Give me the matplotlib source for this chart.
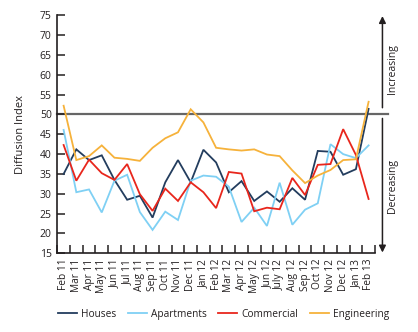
import matplotlib
matplotlib.use('Agg')
import matplotlib.pyplot as plt
import numpy as np

# data
months = ['Feb 11', 'Mar 11', 'Apr 11', 'May 11', 'Jun 11', 'Jul 11', 'Aug 11', 'Sep 11',
          'Oct 11', 'Nov 11', 'Dec 11', 'Jan 12', 'Feb 12', 'Mar 12', 'Apr 12', 'May 12',
          'Jun 12', 'July 12', 'Aug 12', 'Sep 12', 'Oct 12', 'Nov 12', 'Dec 12', 'Jan 13', 'Feb 13']
houses      = [35.0, 41.2, 38.5, 39.7, 33.5, 28.5, 29.5, 24.0, 32.9, 38.5, 32.9, 41.1, 37.9,
               30.4, 33.2, 28.2, 30.6, 28.0, 31.4, 28.5, 40.8, 40.6, 34.8, 36.2, 51.4]
apartments  = [46.1, 30.4, 31.1, 25.3, 33.3, 34.8, 25.4, 20.9, 25.5, 23.4, 33.3, 34.6, 34.3,
               31.8, 22.9, 26.5, 21.9, 32.8, 22.2, 26.0, 27.6, 42.5, 40.0, 39.0, 42.2]
commercial  = [42.3, 33.3, 38.6, 35.2, 33.5, 37.5, 29.9, 25.7, 31.3, 28.2, 32.9, 30.4, 26.4,
               35.5, 35.1, 25.6, 26.5, 26.1, 34.0, 29.7, 37.3, 37.5, 46.3, 39.8, 28.7]
engineering = [52.2, 38.5, 39.5, 42.2, 39.1, 38.8, 38.3, 41.6, 44.0, 45.5, 51.3, 48.0, 41.6,
               41.2, 40.9, 41.2, 39.9, 39.5, 35.9, 32.7, 34.6, 36.0, 38.5, 38.7, 53.2]

series = [('Houses', houses, '#233d5e'),
          ('Apartments', apartments, '#7fd0f4'),
          ('Commercial', commercial, '#e8261c'),
          ('Engineering', engineering, '#f6b23b')]

plt.rcParams['font.family'] = ['Open Sans', 'DejaVu Sans']
txtcol = '#231f20'

fig = plt.figure(figsize=(4.18, 3.32), dpi=100)
ax = fig.add_axes([0.137, 0.237, 0.76, 0.717])

x = np.arange(len(months))
for name, vals, col in series:
  ax.plot(x, vals, color=col, lw=1.3, label=name, solid_joinstyle='miter')

# threshold line at 50, running out past the axis
ax.plot([-0.5, 25.55], [50, 50], color='#666666', lw=1.6, clip_on=False, zorder=1)

ax.set_xlim(-0.5, len(months) - 0.5)
ax.set_ylim(15, 75)
ax.set_yticks(np.arange(15, 76, 5))
ax.set_xticks(x)
ax.set_xticklabels(months, rotation=90)
ax.set_xticks(np.arange(-0.5, len(months), 1), minor=True)
ax.tick_params(axis='x', which='major', length=0, pad=4, labelsize=7.3, colors=txtcol)
ax.tick_params(axis='x', which='minor', direction='in', length=6, width=1.1, color=txtcol)
ax.tick_params(axis='y', direction='in', length=6, width=1.1, labelsize=7.5, colors=txtcol, pad=4)

for s in ['top', 'right']:
  ax.spines[s].set_visible(False)
for s in ['left', 'bottom']:
  ax.spines[s].set_linewidth(1.2)
  ax.spines[s].set_color(txtcol)

ax.set_ylabel('Diffusion Index', fontsize=8, color=txtcol, labelpad=10)

# increasing / decreasing arrows on the right
arr = dict(arrowstyle='-|>', color=txtcol, lw=1.1, mutation_scale=10, shrinkA=0, shrinkB=0)
ax.annotate('', xy=(25.09, 74.8), xytext=(25.09, 51.7), arrowprops=arr, annotation_clip=False)
ax.annotate('', xy=(25.09, 15.2), xytext=(25.09, 49.0), arrowprops=arr, annotation_clip=False)
ax.text(25.9, 61.5, 'Increasing', rotation=90, ha='center', va='center', fontsize=7.5,
        color=txtcol, clip_on=False)
ax.text(25.85, 32.0, 'Decreasing', rotation=90, ha='center', va='center', fontsize=7.5,
        color=txtcol, clip_on=False)

leg = fig.legend(loc='center', bbox_to_anchor=(0.535, 0.054), ncol=4, frameon=False,
                 fontsize=7.3, handlelength=1.9, handletextpad=0.4, columnspacing=1.1,
                 borderpad=0.1)
for t in leg.get_texts():
  t.set_color(txtcol)

fig.savefig('out.png', dpi=100)
